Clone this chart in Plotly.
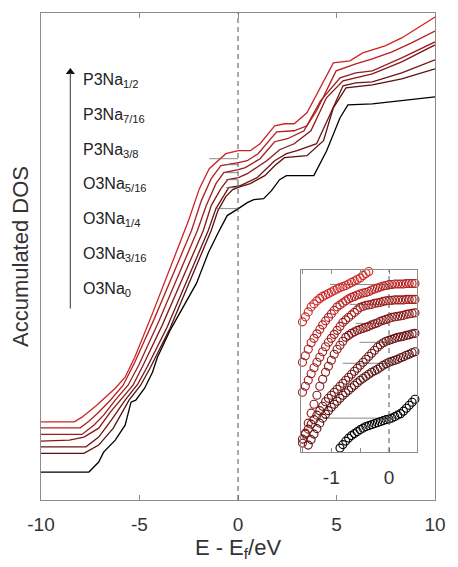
import plotly.graph_objects as go

# ---------------- main panel data (E - Ef in eV, accumulated DOS in arb. units) -------------
series_names = ["O3Na0", "O3Na3/16", "O3Na1/4", "O3Na5/16", "P3Na3/8", "P3Na7/16", "P3Na1/2"]
colors = ["#000000", "#581010", "#6e1414", "#861818", "#9e1c1c", "#b41e1e", "#cc2424"]

E0 = [-10, -7.57, -7.07, -6.82, -6.23, -5.73, -5.43, -5.19, -4.74, -4.34, -4.09, -3.45, -2.11, -1.5, -1.0, -0.55, 0.02, 0.47, 0.8, 1.3, 1.7, 2.11, 2.46, 3.85, 4.5, 5.18, 5.58, 6.82, 10]
U0 = [28, 28, 38, 48, 60, 75, 98, 100, 112, 128, 143, 170, 217, 248, 268, 285, 292, 298, 301, 302, 310, 321, 325, 325, 350, 383, 396, 397, 404]

E1 = [-10, -7.82, -7.07, -6.33, -5.53, -4.94, -4.44, -3.95, -3.45, -1.36, -1.02, -0.62, -0.27, 0.12, 0.62, 1.36, 1.86, 2.36, 3.5, 4.34, 4.84, 5.48, 6.82, 8.31, 10]
U1 = [46.7, 46.7, 55, 72, 100, 115, 133, 152, 172, 270, 290, 304, 311, 314, 317, 325, 335, 343, 345, 360, 393, 413, 416, 422, 432]

E2 = [-10, -7.72, -7.07, -6.43, -5.73, -5.09, -4.59, -4.09, -3.60, -1.51, -1.12, -0.72, -0.47, 0.12, 0.97, 1.86, 2.46, 3.0, 3.99, 4.69, 5.33, 5.98, 6.82, 8.31, 10]
U2 = [53.3, 53.3, 63, 80, 100, 116, 134, 153, 173, 270, 292, 305, 313, 315, 323, 340, 347, 350, 357, 387, 415, 418, 419, 428, 441]

E3 = [-10, -8.56, -7.82, -7.07, -6.48, -5.98, -5.33, -4.84, -4.34, -3.85, -1.76, -1.36, -0.87, -0.52, 0.02, 0.47, 1.46, 2.11, 2.85, 3.70, 4.49, 5.33, 6.82, 8.31, 10]
U3 = [59, 60, 63, 72, 88, 100, 115, 134, 155, 175, 270, 295, 312, 321, 323, 327, 340, 351, 357, 370, 403, 420, 427, 439, 456]

E4 = [-10, -7.92, -7.32, -6.82, -6.23, -5.58, -5.04, -4.54, -4.04, -2.06, -1.61, -1.12, -0.72, 0.02, 0.37, 1.12, 1.86, 2.51, 3.35, 4.19, 5.18, 5.98, 6.82, 8.31, 10]
U4 = [65.7, 65.7, 75, 85, 100, 115, 135, 157, 178, 270, 295, 317, 328, 331, 333, 342, 359, 362, 370, 400, 423, 428, 430, 443, 459]

E5 = [-10, -8.01, -7.57, -7.07, -6.48, -5.83, -5.24, -4.74, -4.24, -2.36, -1.86, -1.36, -0.87, 0.02, 0.47, 1.02, 1.96, 2.85, 3.5, 3.99, 4.98, 5.98, 6.82, 7.82, 8.81, 10]
U5 = [72.3, 72.3, 79, 88, 100, 115, 138, 160, 182, 270, 300, 322, 335, 338, 340, 347, 369, 370, 375, 390, 430, 437, 442, 449, 458, 470]

E6 = [-10, -8.31, -7.92, -7.17, -6.23, -5.73, -5.24, -4.74, -4.34, -2.51, -1.96, -1.46, -1.02, -0.62, 0.02, 0.62, 1.12, 1.86, 2.36, 2.85, 3.5, 4.84, 5.68, 6.33, 7.47, 8.31, 10]
U6 = [78.3, 78.3, 83, 95, 112, 123, 143, 167, 187, 280, 312, 332, 340, 347, 350, 350, 357, 375, 377, 377, 388, 438, 440, 448, 455, 463, 484]

# thin joining segments that end at E = 0 (main panel)
main_join_start = [-1.12, -0.62, -0.62, -0.62, -0.72, -1.46]
main_join_level = [292, 313, 321, 328, 336, 342]

# ---------------- inset data (zoom near Ef) -------------
inset_E_full = [round(-1.5 + 0.05 * i, 2) for i in range(41)]

IA_E = inset_E_full[:25]
IA = [178.5, 183.5, 188.5, 193.5, 196.5, 199.5, 202, 204, 205.5, 207, 208.5, 210, 211.5, 213, 214,
      215, 216.5, 218, 219.5, 221, 222.5, 225, 227, 229, 231]
IB = [138, 144.5, 151, 157.5, 162, 166.5, 171, 175.5, 179.5, 183, 186.5, 190, 193.5, 195.5, 197.5,
      199.5, 201.5, 203, 204, 205.5, 206.5, 207.5, 208, 209, 210.5, 211.5, 212.5, 213.5, 214.5, 215,
      216, 216, 216.5, 216.5, 216.5, 216.5, 217, 217, 217, 217, 217]
IC = [108, 114, 120, 126.5, 132.5, 138, 143, 148.5, 153.5, 158, 162, 166, 170, 174, 178, 180.5,
      183, 185.5, 188, 190.5, 193, 194, 195, 195.5, 196, 197, 197.5, 198, 199, 199.5, 200, 200,
      200.5, 200.5, 200.5, 200.5, 201, 201, 201, 201, 201]
ID = [57, 67, 77, 87, 96, 105, 114, 121, 128, 134, 140, 146, 151, 155, 159, 163, 165, 167, 168.5,
      170, 171, 172, 173, 174, 175.5, 176.5, 177.5, 179, 180, 181, 182, 183, 183.5, 184, 184.5, 185,
      186, 186.5, 187, 187.5, 188]
IE = [61, 66, 71, 76, 80.5, 85, 89.5, 94, 98.5, 102, 105, 108, 111, 114, 117, 120, 123, 126, 129,
      132, 135, 138, 141, 144, 147, 150, 153, 155.5, 157.5, 159, 160, 161, 162, 163, 163.5, 164, 165,
      165.5, 166.5, 167, 168]
IF_E = inset_E_full[2:]
IF = [55, 60.5, 66, 71.5, 77, 82, 86, 89.5, 93, 96, 99, 102, 105, 107.5, 110, 112.5, 115, 117.5,
      120, 122, 124, 126, 128, 129.5, 131, 133, 135, 136.5, 138, 139, 140, 141, 142.5, 143.5, 145,
      146, 147.5, 148.5, 150]
IG_E = inset_E_full[13:40]
IG = [52, 55.5, 59, 62, 64.5, 66.5, 68.5, 70.5, 72, 73.5, 74.5, 75.5, 76.5, 77.5, 78.5, 79.5, 80.5,
      81, 82, 83.5, 85, 86.5, 89, 92, 95, 98, 101]

inset_join_start = [-1.14, -0.80, -0.51, -0.58, -0.68, -1.02]
inset_join_level = [82, 137, 158, 177, 196, 216]

legend_labels = ["P3Na<sub>1/2</sub>", "P3Na<sub>7/16</sub>", "P3Na<sub>3/8</sub>", "O3Na<sub>5/16</sub>",
                 "O3Na<sub>1/4</sub>", "O3Na<sub>3/16</sub>", "O3Na<sub>0</sub>"]
legend_y = [420, 385, 350, 316, 281, 246, 211]

main_ticks = [-10, -5, 0, 5, 10]
inset_ticks = [-1, 0]
inset_minor = [-1.5, -0.5, 0.5]

FONT = "Liberation Sans, Arial, Helvetica, sans-serif"
AXC = "#8c8c8c"
TXT = "#333333"

fig = go.Figure()

main_E = [E0, E1, E2, E3, E4, E5, E6]
main_U = [U0, U1, U2, U3, U4, U5, U6]
for xs, ys, c, n in zip(main_E, main_U, colors, series_names):
    fig.add_trace(go.Scatter(x=xs, y=ys, mode="lines", line=dict(color=c, width=1.3), name=n,
                             showlegend=False))

for xs0, lv in zip(main_join_start, main_join_level):
    fig.add_trace(go.Scatter(x=[xs0, 0], y=[lv, lv], mode="lines",
                             line=dict(color="#6a6a6a", width=0.8), showlegend=False))

inset_sets = [(IG_E, IG), (IF_E, IF), (inset_E_full, IE), (inset_E_full, ID),
              (inset_E_full, IC), (inset_E_full, IB), (IA_E, IA)]
for (xs0, lv) in zip(inset_join_start, inset_join_level):
    fig.add_trace(go.Scatter(x=[xs0, 0], y=[lv, lv], mode="lines", xaxis="x2", yaxis="y2",
                             line=dict(color="#6a6a6a", width=0.8), showlegend=False))
for (xs, ys), c, n in zip(inset_sets, colors, series_names):
    fig.add_trace(go.Scatter(x=xs, y=ys, mode="markers", xaxis="x2", yaxis="y2", name=n,
                             marker=dict(symbol="circle-open", size=8, color=c, line=dict(width=1.1, color=c)),
                             cliponaxis=False, showlegend=False))

# dashed Fermi level lines
fig.add_shape(type="line", xref="x", yref="y domain", x0=0, x1=0, y0=0, y1=1,
              line=dict(color="#555555", width=1, dash="5px,4px"))
fig.add_shape(type="line", xref="x2", yref="y2 domain", x0=0, x1=0, y0=0, y1=1,
              line=dict(color="#555555", width=1, dash="5px,4px"))

# arrow (drawn as a line with a head) + labels
fig.add_shape(type="line", xref="x", yref="y", x0=-8.51, x1=-8.51, y0=192, y1=428,
              line=dict(color="#555555", width=1.2))
fig.add_trace(go.Scatter(x=[-8.51], y=[429], mode="markers", showlegend=False, cliponaxis=False,
                         marker=dict(symbol="triangle-up", size=8, color="#111111", line=dict(width=0))))
for lab, yy in zip(legend_labels, legend_y):
    fig.add_annotation(x=-7.97, y=yy, xref="x", yref="y", text=lab, showarrow=False,
                       xanchor="left", yanchor="middle", font=dict(size=16, color="#222222", family=FONT))

fig.update_layout(
    width=458, height=567,
    margin=dict(l=41, r=14, t=12, b=67),
    plot_bgcolor="white", paper_bgcolor="white",
    font=dict(family=FONT, color=TXT),
    xaxis=dict(range=[-10, 10], tickvals=main_ticks, ticktext=[str(t) for t in main_ticks],
               ticks="inside", ticklen=5, tickcolor=AXC, showline=True, linecolor=AXC, linewidth=1,
               mirror="ticks", showgrid=False, zeroline=False, tickfont=dict(size=19, color=TXT),
               ticklabelstandoff=7,
               title=dict(text="E - E<sub>f</sub>/eV", font=dict(size=22, color=TXT), standoff=5)),
    yaxis=dict(range=[0, 488], showticklabels=False, ticks="", showline=True, linecolor=AXC,
               mirror=True, showgrid=False, zeroline=False,
               title=dict(text="Accumulated DOS", font=dict(size=22, color=TXT), standoff=5)),
    xaxis2=dict(domain=[0.660, 0.9553], anchor="y2", range=[-1.525, 0.492],
                tickvals=inset_ticks, ticktext=[str(t) for t in inset_ticks],
                ticks="inside", ticklen=4, tickcolor=AXC, showline=True, linecolor=AXC, mirror="ticks",
                minor=dict(tickvals=inset_minor, ticks="inside", ticklen=4, tickcolor=AXC),
                showgrid=False, zeroline=False, tickfont=dict(size=19, color=TXT), ticklabelstandoff=8),
    yaxis2=dict(domain=[0.0984, 0.4713], anchor="x2", range=[48, 230], showticklabels=False, ticks="",
                showline=True, linecolor=AXC, mirror=True, showgrid=False, zeroline=False),
)

fig.write_html("out.html")
